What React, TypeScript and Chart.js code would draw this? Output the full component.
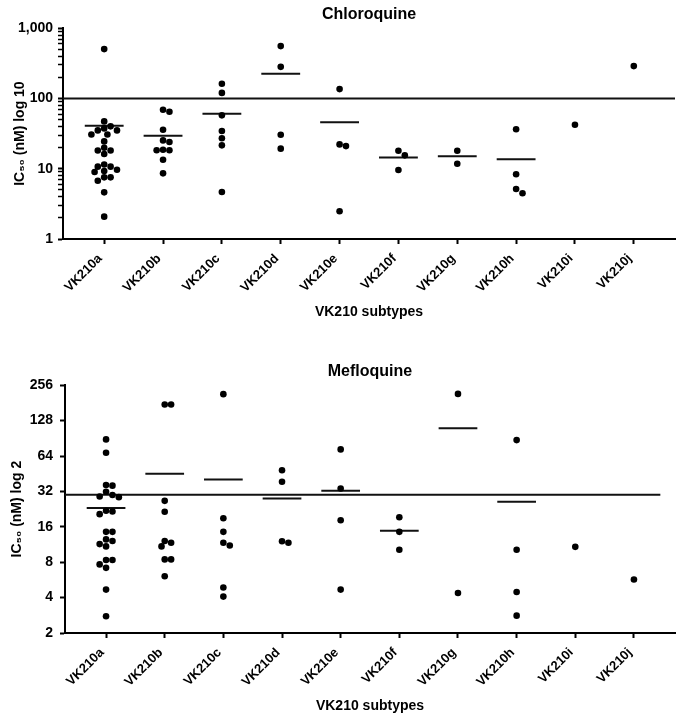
import React, { useEffect, useRef } from "react";
import { Chart, registerables } from "chart.js";

Chart.register(...registerables);

const FONT = "'Liberation Sans', Arial, Helvetica, sans-serif";
Chart.defaults.font.family = FONT;
Chart.defaults.color = "#000";

const categories = ["VK210a", "VK210b", "VK210c", "VK210d", "VK210e", "VK210f", "VK210g", "VK210h", "VK210i", "VK210j"];

// Chloroquine IC50 (nM)
const cqA = [504, 47.2, 40.1, 37.5, 35.1, 35.1, 30.7, 30.7, 24.5, 19.9, 18.2, 18.2, 16.2, 11.5, 10.7, 10.7, 9.69, 9.28, 8.98, 7.54, 7.54, 6.76, 4.61, 2.08];
const cqB = [69.1, 64.7, 35.9, 25.3, 24.0, 18.6, 18.3, 18.3, 13.4, 8.6];
const cqC = [162, 120, 57.5, 34.4, 27.1, 21.5, 4.66];
const cqD = [556, 282, 30.5, 19.3];
const cqE = [136, 22.2, 21.0, 2.48];
const cqF = [18.0, 15.5, 9.58];
const cqG = [18.0, 11.8];
const cqH = [36.4, 8.33, 5.14, 4.47];
const cqI = [42.3];
const cqJ = [289];
const cqMeans = [40.9, 29.5, 60.6, 225, 45.7, 14.5, 15.1, 13.6, null, null];
const cqThreshold = 100;
const cqTickValues = [1, 10, 100, 1000];
const cqTickLabels = ["1", "10", "100", "1,000"];

// Mefloquine IC50 (nM)
const mqA = [88.6, 68.2, 36.3, 35.8, 31.8, 29.8, 29.0, 28.6, 21.9, 21.6, 20.5, 14.5, 14.5, 12.5, 12.1, 11.4, 10.9, 8.34, 8.34, 7.66, 7.16, 4.68, 2.78];
const mqB = [175.5, 175.5, 26.6, 21.5, 12.1, 11.7, 10.9, 8.45, 8.45, 6.08];
const mqC = [214.8, 18.9, 14.5, 11.7, 11.1, 4.87, 4.08];
const mqD = [48.4, 38.7, 12.05, 11.7];
const mqE = [72.8, 33.9, 18.2, 4.68];
const mqF = [19.3, 14.5, 10.2];
const mqG = [216, 4.38];
const mqH = [87.4, 10.2, 4.47, 2.81];
const mqI = [10.8];
const mqJ = [5.7];
const mqMeans = [23.1, 45.3, 40.3, 27.9, 32.4, 14.8, 110, 26.1, null, null];
const mqThreshold = 30;
const mqTickValues = [2, 4, 8, 16, 32, 64, 128, 256];
const mqTickLabels = ["2", "4", "8", "16", "32", "64", "128", "256"];

const X_MIN = -0.7;
const X_MAX = 9.7;
const MEAN_HALF = 0.33;

// simple beeswarm in pixel space
function swarm(ys: number[], collide: number, step: number): number[] {
  const order = ys.map((_, i) => i).sort((a, b) => ys[a] - ys[b]);
  const placed: { x: number; y: number }[] = [];
  const offs = new Array(ys.length).fill(0);
  const cands: number[] = [0];
  for (let k = 1; k < 30; k++) cands.push(k * step, -k * step);
  for (const i of order) {
    const y = ys[i];
    let best = 0;
    for (const c of cands) {
      if (placed.every((p) => (p.x - c) ** 2 + (p.y - y) ** 2 >= collide * collide - 0.01)) {
        best = c;
        break;
      }
    }
    placed.push({ x: best, y });
    offs[i] = best;
  }
  return offs;
}

type PanelProps = {
  title: string;
  yTitle: string;
  groups: number[][];
  means: (number | null)[];
  threshold: number;
  thresholdEnd: number;
  tickValues: number[];
  tickLabels: string[];
  minorTicks: boolean;
  axisLeft: number;
  yTitlePad: number;
  yTickPad: number;
  width: number;
  height: number;
  top: number;
};

const AXIS_H = 84;

function Panel(p: PanelProps) {
  const ref = useRef<HTMLCanvasElement>(null);
  useEffect(() => {
    const canvas = ref.current!;
    const allTicks: number[] = [];
    if (p.minorTicks) {
      for (let i = 0; i < p.tickValues.length - 1; i++) {
        for (let m = 1; m <= 9; m++) allTicks.push(p.tickValues[i] * m);
      }
      allTicks.push(p.tickValues[p.tickValues.length - 1]);
    } else {
      allTicks.push(...p.tickValues);
    }
    const isMajor = (v: number) => p.tickValues.indexOf(v) >= 0;
    const bold14 = { family: FONT, size: 14, weight: "bold" as const };

    const points = p.groups.flatMap((vals, gi) => vals.map((v) => ({ x: gi, y: v })));
    const meanSets = p.means
      .map((m, gi) =>
        m == null
          ? null
          : {
              type: "line" as const,
              data: [
                { x: gi - MEAN_HALF, y: m },
                { x: gi + MEAN_HALF, y: m },
              ],
              borderColor: "#111",
              borderWidth: 2,
              pointRadius: 0,
              showLine: true,
            }
      )
      .filter(Boolean) as any[];

    const chart = new Chart(canvas, {
      type: "scatter",
      data: {
        datasets: [
          {
            data: points,
            backgroundColor: "#000",
            borderColor: "#000",
            pointRadius: 3.3,
            pointBorderWidth: 0,
          },
          ...meanSets,
          {
            type: "line",
            data: [
              { x: X_MIN, y: p.threshold },
              { x: p.thresholdEnd, y: p.threshold },
            ],
            borderColor: "#111",
            borderWidth: 2,
            pointRadius: 0,
          },
        ],
      },
      options: {
        animation: false,
        responsive: false,
        devicePixelRatio: 1,
        events: [],
        layout: { padding: { left: 0, right: 1, top: 0, bottom: 0 } },
        plugins: {
          legend: { display: false },
          tooltip: { enabled: false },
          title: {
            display: true,
            text: p.title,
            color: "#000",
            fullSize: false,
            font: { family: FONT, size: 16, weight: "bold" },
            padding: { top: 5, bottom: 4 },
          },
        },
        scales: {
          x: {
            type: "linear",
            min: X_MIN,
            max: X_MAX,
            afterBuildTicks: (scale: any) => {
              scale.ticks = categories.map((_, i) => ({ value: i }));
            },
            afterFit: (scale: any) => {
              scale.height = AXIS_H;
            },
            ticks: {
              autoSkip: false,
              minRotation: 45,
              maxRotation: 45,
              padding: 7,
              labelOffset: -4,
              color: "#000",
              font: { family: FONT, size: 13, weight: "bold" },
              callback: (v: any) => categories[Math.round(Number(v))] ?? "",
            },
            grid: {
              display: true,
              drawOnChartArea: false,
              drawTicks: true,
              tickLength: 5,
              tickWidth: 2,
              tickColor: "#000",
            },
            border: { display: true, color: "#000", width: 2 },
            title: {
              display: true,
              text: "VK210 subtypes",
              color: "#000",
              font: bold14,
              padding: { top: 0, bottom: 2.6 },
            },
          },
          y: {
            type: "logarithmic",
            min: p.tickValues[0],
            max: p.tickValues[p.tickValues.length - 1],
            afterBuildTicks: (scale: any) => {
              scale.ticks = allTicks.map((v) => ({ value: v, major: isMajor(v) }));
            },
            afterFit: (scale: any) => {
              scale.width = p.axisLeft;
            },
            ticks: {
              autoSkip: false,
              padding: p.yTickPad,
              color: "#000",
              font: bold14,
              callback: (v: any) => {
                const i = p.tickValues.indexOf(Number(v));
                return i >= 0 ? p.tickLabels[i] : "";
              },
            },
            grid: {
              display: true,
              drawOnChartArea: false,
              drawTicks: true,
              tickLength: 5,
              tickWidth: (ctx: any) => (ctx.tick && isMajor(ctx.tick.value) ? 2 : 1.5),
              tickColor: "#000",
            },
            border: { display: true, color: "#000", width: 2 },
            title: {
              display: true,
              text: p.yTitle,
              color: "#000",
              font: bold14,
              padding: { top: p.yTitlePad, bottom: 0 },
            },
          },
        },
      },
    } as any);

    // spread overlapping points horizontally (beeswarm) using the chart's own scales
    const xs = chart.scales.x;
    const ys = chart.scales.y;
    const unit = xs.getPixelForValue(1) - xs.getPixelForValue(0);
    const swarmed: { x: number; y: number }[] = [];
    p.groups.forEach((vals, gi) => {
      const offs = swarm(vals.map((v) => ys.getPixelForValue(v)), 6.2, 3.2);
      vals.forEach((v, k) => swarmed.push({ x: gi + offs[k] / unit, y: v }));
    });
    chart.data.datasets[0].data = swarmed as any;
    chart.update();

    return () => chart.destroy();
  }, []);
  return (
    <canvas
      ref={ref}
      width={p.width}
      height={p.height}
      style={{ position: "absolute", left: 0, top: p.top, width: p.width, height: p.height, display: "block" }}
    />
  );
}

export default function App() {
  return (
    <div style={{ position: "absolute", left: 0, top: 0, width: 679, height: 720, background: "#fff" }}>
      <Panel
        title="Chloroquine"
        yTitle="IC₅₀ (nM) log 10"
        groups={[cqA, cqB, cqC, cqD, cqE, cqF, cqG, cqH, cqI, cqJ]}
        means={cqMeans}
        threshold={cqThreshold}
        thresholdEnd={X_MAX}
        tickValues={cqTickValues}
        tickLabels={cqTickLabels}
        minorTicks={true}
        axisLeft={63}
        yTitlePad={11.6}
        yTickPad={5}
        width={679}
        height={323}
        top={0}
      />
      <Panel
        title="Mefloquine"
        yTitle="IC₅₀ (nM) log 2"
        groups={[mqA, mqB, mqC, mqD, mqE, mqF, mqG, mqH, mqI, mqJ]}
        means={mqMeans}
        threshold={mqThreshold}
        thresholdEnd={9.45}
        tickValues={mqTickValues}
        tickLabels={mqTickLabels}
        minorTicks={false}
        axisLeft={65}
        yTitlePad={9}
        yTickPad={7}
        width={679}
        height={360}
        top={357}
      />
    </div>
  );
}
